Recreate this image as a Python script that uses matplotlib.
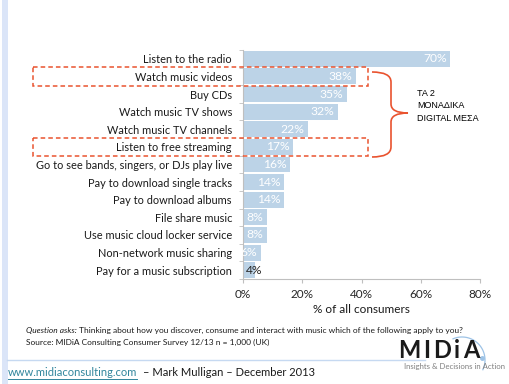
import matplotlib
matplotlib.use('Agg')
import matplotlib.pyplot as plt
import numpy as np
from matplotlib.path import Path
from matplotlib.patches import PathPatch, Rectangle
from matplotlib.transforms import Affine2D, blended_transform_factory

activities = ['Listen to the radio', 'Watch music videos', 'Buy CDs',
              'Watch music TV shows', 'Watch music TV channels',
              'Listen to free streaming',
              'Go to see bands, singers, or DJs play live',
              'Pay to download single tracks', 'Pay to download albums',
              'File share music', 'Use music cloud locker service',
              'Non-network music sharing', 'Pay for a music subscription']
share = [70, 38, 35, 32, 22, 17, 16, 14, 14, 8, 8, 6, 4]
highlighted = [1, 5]
xticks = [0, 20, 40, 60, 80]

plt.rcParams['font.family'] = ['Lato', 'DejaVu Sans']
bar_col = '#bcd3e7'
red = '#e9532f'
W, H = 510, 384

fig = plt.figure(figsize=(W / 100, H / 100), dpi=100)
# pixel coordinates, y downwards
px = Affine2D().scale(1 / W, -1 / H).translate(0, 1) + fig.transFigure


def to_px(x):
    return x / fig.dpi / fig.get_figwidth() * W


ax = fig.add_axes([243 / W, 1 - 279 / H, 237 / W, 229 / H])
y = np.arange(len(activities))
ax.barh(y, share, height=0.9, color=bar_col, zorder=2)
for i, v in enumerate(share):
    if v < 5:
        ax.annotate(f'{v}%', (0, i), xytext=(2, 0), textcoords='offset points',
                    ha='left', va='center', fontsize=8.7, color='#262626', zorder=3)
    else:
        ax.annotate(f'{v}%', (v, i), xytext=(-2.5, 0), textcoords='offset points',
                    ha='right', va='center', fontsize=8.7, color='white', zorder=3)

ax.set_xlim(0, 80)
ax.set_ylim(len(activities) - 0.5, -0.5)
ax.set_xticks(xticks)
ax.set_xticklabels([f'{t}%' for t in xticks], fontsize=8.5, color='#262626')
ax.set_yticks(y)
ax.set_yticklabels(activities, fontsize=7.9, color='#1a1a1a')
ax.set_yticks(np.arange(len(activities) + 1) - 0.5, minor=True)
ax.tick_params(axis='y', which='major', length=0, pad=8)
ax.tick_params(axis='y', which='minor', length=3, color='#bfbfbf')
ax.tick_params(axis='x', length=3, color='#bfbfbf', pad=4)
ax.set_xlabel('% of all consumers', fontsize=8.5, color='#1a1a1a', labelpad=3)
for s in ['top', 'right']:
    ax.spines[s].set_visible(False)
for s in ['left', 'bottom']:
    ax.spines[s].set_color('#bfbfbf')
    ax.spines[s].set_linewidth(0.8)

# dashed boxes around the two digital rows
bt = blended_transform_factory(fig.transFigure, ax.transData)
for r in highlighted:
    fig.patches.append(Rectangle((33 / W, r - 0.52), (368 - 33) / W, 1.04,
                                 transform=bt, fill=False, ec=red, lw=1.1,
                                 ls=(0, (3, 2)), clip_on=False))

# curly brace
verts = [(372, 72), (391, 72), (391, 82), (391, 104), (391, 113), (408, 113),
         (391, 113), (391, 122), (391, 147), (391, 157), (372, 157)]
codes = [Path.MOVETO, Path.CURVE3, Path.CURVE3, Path.LINETO, Path.CURVE3, Path.CURVE3,
         Path.CURVE3, Path.CURVE3, Path.LINETO, Path.CURVE3, Path.CURVE3]
fig.patches.append(PathPatch(Path(verts, codes), transform=px, fill=False,
                             ec=red, lw=1.2))
fig.text(417, 106, 'ΤΑ 2\nΜΟΝΑΔΙΚΑ\nDIGITAL ΜΕΣΑ', transform=px, fontsize=6.5,
         family=['Liberation Sans', 'DejaVu Sans'], ha='left', va='center',
         linespacing=1.55, color='black')

# footnote
t1 = fig.text(26, 330, 'Question asks:', transform=px, fontsize=6, style='italic',
              va='center', color='#1a1a1a')
fig.canvas.draw()
bb = t1.get_window_extent()
fig.text(to_px(bb.x1) + 2, 330,
         'Thinking about how you discover, consume and interact with music which of the following apply to you?',
         transform=px, fontsize=6, va='center', color='#1a1a1a')
fig.text(26, 342, 'Source: MIDiA Consulting Consumer Survey 12/13 n = 1,000 (UK)',
         transform=px, fontsize=6, va='center', color='#1a1a1a')

# page decorations
fig.patches.append(Rectangle((2, 0), 6, H, transform=px, color='#dbe5f8', lw=0))
fig.lines.append(plt.Line2D([7, 425], [360, 360], transform=px, color='#c6d9f1', lw=1))

# logo, letter-spaced
xl = 398
for ch in 'MIDiA':
    t = fig.text(xl, 351, ch, transform=px, fontsize=17, weight='bold', ha='left',
                 va='center', color='#1a1a1a')
    fig.canvas.draw()
    xl = to_px(t.get_window_extent().x1) + 3
th = np.linspace(np.radians(113), np.radians(-25), 60)
fig.lines.append(plt.Line2D(462 + 23 * np.cos(th), 360 - 23 * np.sin(th),
                            transform=px, color='#9dc3e6', lw=0.9))
fig.lines.append(plt.Line2D([482], [358], transform=px, marker='o', ms=2.5,
                            color='#9dc3e6', lw=0))
fig.text(455, 367, 'Insights & Decisions in Action', transform=px, fontsize=5.6,
         ha='center', va='center', color='#7f7f7f')

# footer
u = fig.text(8, 373, 'www.midiaconsulting.com', transform=px, fontsize=8,
             va='center', color='#31859c')
fig.canvas.draw()
ub = u.get_window_extent()
x0, x1 = to_px(ub.x0), to_px(ub.x1)
fig.lines.append(plt.Line2D([x0, x1], [379, 379], transform=px, color='#31859c', lw=0.7))
fig.text(x1 + 6, 373, '– Mark Mulligan – December 2013', transform=px, fontsize=8,
         va='center', color='#1a1a1a')

fig.savefig('out.png', dpi=100, facecolor='white')
